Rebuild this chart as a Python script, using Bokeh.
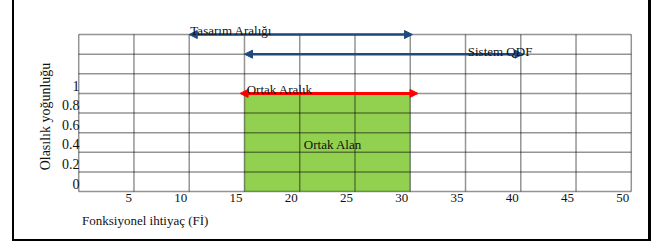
from bokeh.plotting import figure
from bokeh.models import (Range1d, FixedTicker, Arrow, NormalHead, Label, LabelSet,
                          ColumnDataSource)
from bokeh.layouts import column
from bokeh.embed import file_html
from bokeh.resources import INLINE

# ---- data ----
x_tick_values = [5, 10, 15, 20, 25, 30, 35, 40, 45, 50]
x_tick_labels = ["5", "10", "15", "20", "25", "30", "35", "40", "45", "50"]
y_tick_values = [0, 0.2, 0.4, 0.6, 0.8, 1.0]
y_tick_labels = ["0", "0.2", "0.4", "0.6", "0.8", "1"]
x_lines = [0, 5, 10, 15, 20, 25, 30, 35, 40, 45, 50]
y_lines = [0, 0.2, 0.4, 0.6, 0.8, 1.0, 1.2, 1.4, 1.6]

common_left, common_right = 15, 30          # Ortak Alan
common_bottom, common_top = 0, 1.0

design_range = [10, 30.2]                   # Tasarım Aralığı
design_level = 1.6
system_range = [15, 40.2]                   # Sistem QDF
system_level = 1.4
common_range = [14.6, 30.7]                 # Ortak Aralık
common_level = 1.0

FONT = "Liberation Serif"
TXT = "#111111"
BLUE = "#1F4A80"

p = figure(width=639, height=241, output_backend="svg", toolbar_location=None,
           x_range=Range1d(-0.2, 50.2), y_range=Range1d(-0.418, 1.947),
           min_border_left=62, min_border_right=20, min_border_top=0, min_border_bottom=9)
p.background_fill_color = "white"
p.border_fill_color = "white"
p.outline_line_color = None
p.grid.visible = False
p.xaxis.visible = False

# green common area
p.quad(left=[common_left], right=[common_right], bottom=[common_bottom], top=[common_top],
       fill_color="#92D050", line_color=None)

# table-like grid
top = y_lines[-1]
right = x_lines[-1]
p.segment(x0=x_lines, y0=[0] * len(x_lines), x1=x_lines, y1=[top] * len(x_lines),
          line_color="black", line_alpha=0.42, line_width=1.5)
p.segment(x0=[0] * len(y_lines), y0=y_lines, x1=[right] * len(y_lines), y1=y_lines,
          line_color="black", line_alpha=0.42, line_width=1.5)

# x tick labels, right-aligned just left of their grid lines
xsrc = ColumnDataSource(dict(x=x_tick_values, y=[0] * len(x_tick_values), t=x_tick_labels))
p.add_layout(LabelSet(x="x", y="y", text="t", source=xsrc, x_offset=-2, y_offset=-3,
                      text_align="right", text_baseline="top", text_font=FONT,
                      text_font_size="13px", text_color=TXT))

# y axis (labels sit just above their grid lines)
y_pos = [v + 0.08 for v in y_tick_values]
p.yaxis.ticker = FixedTicker(ticks=y_pos)
p.yaxis.major_label_overrides = {yp: s for yp, s in zip(y_pos, y_tick_labels)}
p.yaxis.axis_line_color = None
p.yaxis.major_tick_line_color = None
p.yaxis.minor_tick_line_color = None
p.yaxis.major_tick_out = 0
p.yaxis.major_tick_in = 0
p.yaxis.major_label_text_font = FONT
p.yaxis.major_label_text_font_size = "14px"
p.yaxis.major_label_text_color = TXT
p.yaxis.major_label_standoff = -3
p.yaxis.axis_label = "Olasılık yoğunluğu"
p.yaxis.axis_label_text_font = FONT
p.yaxis.axis_label_text_font_size = "14px"
p.yaxis.axis_label_text_font_style = "normal"
p.yaxis.axis_label_text_color = TXT
p.yaxis.axis_label_standoff = 6

# x axis title, left aligned
p.add_layout(Label(x=0.3, y=0, y_offset=-29, text="Fonksiyonel ihtiyaç (Fİ)", text_font=FONT,
                   text_font_size="13px", text_color=TXT, text_baseline="middle"))

# arrows
def add_arrow(rng, level, color, width):
    p.add_layout(Arrow(x_start=rng[0], y_start=level, x_end=rng[1], y_end=level,
                       line_color=color, line_width=width,
                       start=NormalHead(size=8, fill_color=color, line_color=color, line_width=1),
                       end=NormalHead(size=8, fill_color=color, line_color=color, line_width=1)))

add_arrow(design_range, design_level, BLUE, 2.5)
add_arrow(system_range, system_level, BLUE, 2.5)
add_arrow(common_range, common_level, "#FF0000", 3)

def add_text(x, y, text, yoff=4, align="left", baseline="alphabetic"):
    p.add_layout(Label(x=x, y=y, text=text, text_font=FONT, text_font_size="13px",
                       text_color=TXT, y_offset=yoff, text_align=align,
                       text_baseline=baseline))

add_text(design_range[0] + 0.1, design_level, "Tasarım Aralığı", yoff=4)
add_text(35.2, system_level, "Sistem QDF", yoff=3)
add_text(common_left + 0.2, common_level, "Ortak Aralık", yoff=4)
add_text(23.0, 0.48, "Ortak Alan", yoff=0, align="center", baseline="middle")

# outer frame, open at the top
p.styles = {"border-left": "2px solid black", "border-right": "3px solid black",
            "border-bottom": "2px solid black"}
root = column(p, styles={"padding-left": "12px"})

open("out.html", "w").write(file_html(root, INLINE))
